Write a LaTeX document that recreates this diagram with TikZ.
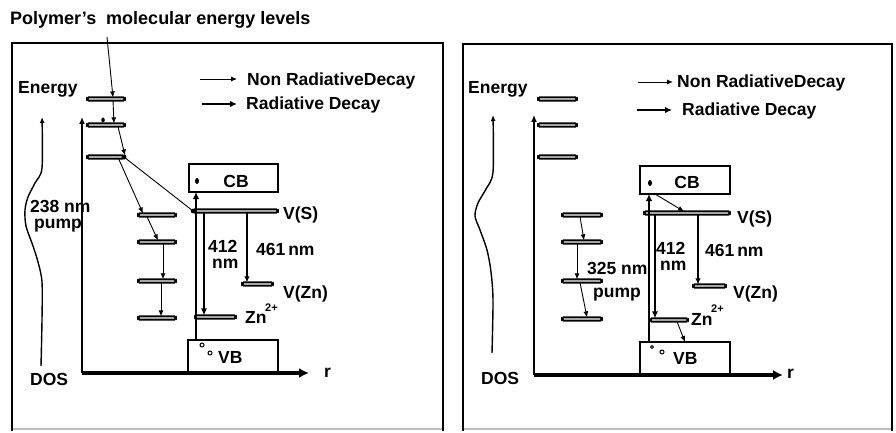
\documentclass[tikz,border=0pt]{standalone}
\usepackage{fontspec}
\setmainfont{Liberation Sans}
\usetikzlibrary{arrows.meta,calc,shapes.geometric}
\begin{document}
\begin{tikzpicture}[x=1pt,y=-1pt,
  font=\fontsize{17.5}{19}\selectfont\bfseries,
  lvl/.style={draw, line width=1.9pt, rounded corners=1.6pt, fill=white, minimum height=3.2pt, inner sep=0pt, outer sep=0pt},
  band/.style={draw, line width=1.4pt, inner sep=0pt, outer sep=0pt},
  nr/.style={line width=0.9pt, -{Latex[length=6pt,width=5pt]}},
  rad/.style={line width=2.4pt, -{Latex[length=7pt,width=6.5pt]}},
  radm/.style={line width=1.9pt, -{Latex[length=7pt,width=6pt]}},
  radn/.style={line width=1.3pt, -{Latex[length=6pt,width=5.5pt]}},
  eaxis/.style={line width=2.2pt, -{Latex[length=7pt,width=6pt]}},
  raxis/.style={line width=3.5pt, -{Latex[length=10pt,width=10pt]}},
  dos/.style={line width=1.4pt, -{Latex[length=6pt,width=5pt]}},
  lbl/.style={inner sep=0pt, anchor=base west},
  frame/.style={line width=2pt},
  elec/.style={ellipse, fill=black, inner sep=0pt, minimum width=4pt, minimum height=6pt},
  hole/.style={circle, draw, line width=1pt, inner sep=0pt, minimum size=4pt},
  sup/.style={inner sep=0pt, font=\fontsize{11}{12}\selectfont\bfseries}
]
\useasboundingbox (0,0) rectangle (896,433);
\fill[white] (0,0) rectangle (896,433);

% frames
\draw[frame] (12,431) -- (12,43) -- (443,43) -- (443,431);
\draw[gray!50, line width=1.5pt] (13,429) -- (442,429);
\draw[frame] (463,431) -- (463,44) -- (892,44) -- (892,431);
\draw[gray!50, line width=1.5pt] (464,429) -- (891,429);

% ================= LEFT PANEL =================
\node[lbl, font=\fontsize{18}{20}\selectfont\bfseries] (title) at (10,25) {Polymer’s\ \ molecular energy levels};
\node[lbl] (en1) at (18,94) {Energy};
\coordinate (lgA1) at (200,79); \coordinate (lgA2) at (237,79);
\draw[nr] (lgA1) -- (lgA2);
\node[lbl] (lgT1) at (247,86) {Non RadiativeDecay};
\coordinate (lgB1) at (202,104); \coordinate (lgB2) at (237,104);
\draw[rad] (lgB1) -- (lgB2);
\node[lbl] (lgT2) at (246,110) {Radiative Decay};

% bands
\node[band, minimum width=89pt, minimum height=28pt] (CB) at (233.5,178) {};
\node[inner sep=0pt, anchor=base] (CBt) at (236,187) {CB};
\node[band, minimum width=90pt, minimum height=32pt] (VB) at (233,356) {};
\node[lbl] (VBt) at (218,363) {VB};

% axes
\coordinate (O1) at (82,373);
\coordinate (E1) at (82,117);
\coordinate (X1) at (309,373);
\draw[eaxis] (O1) -- (E1);
\draw[raxis] (O1) -- (X1);
\node[lbl] (r1) at (324,377) {r};
\node[lbl] (dos1) at (30,385) {DOS};

% DOS curve
\draw[dos] plot[smooth] coordinates {(41,366) (42,320) (42,282) (38,262) (33,246) (26,226) (25,210) (28,197) (35,183) (42,168) (42,117)};
\node[lbl] (p1a) at (30,212) {238 nm};
\node[lbl] (p1b) at (34,228) {pump};

% polymer levels
\node[lvl, minimum width=38pt] (L1) at (106,99) {};
\node[lvl, minimum width=38pt] (L2) at (106,125) {};
\node[lvl, minimum width=37pt] (L3) at (105.5,157) {};
\node[lvl, minimum width=38pt] (La) at (157,215) {};
\node[lvl, minimum width=38pt] (Lb) at (157,242) {};
\node[lvl, minimum width=38pt] (Lc) at (157,281) {};
\node[lvl, minimum width=38pt] (Ld) at (157,318) {};

% defect levels
\node[lvl, minimum width=85pt] (VS) at (235.5,211) {};
\node[lbl] (VSt) at (283,219) {V(S)};
\node[lvl, minimum width=31pt] (VZn) at (257.5,284) {};
\node[lbl] (VZnt) at (283,298) {V(Zn)};
\node[lvl, minimum width=41pt] (Zn) at (215.5,317) {};
\node[lbl] (Znt) at (245,323) {Zn};
\node[sup, anchor=base west] (Zns) at (265,311) {2+};

% polymer arrows
\coordinate (t0) at (107,37);
\draw[nr] (t0) -- ([xshift=7pt]L1.north);
\draw[nr] ([xshift=7pt]L1.south) -- ([xshift=8pt]L2.north);
\node[elec, minimum width=3.5pt, minimum height=5pt] (e0) at (103,120) {};
\draw[nr] ([xshift=12pt]L2.south) -- ([xshift=19.5pt]L3.north);
\draw[line width=0.9pt] (L3.east) -- (VS.west);
\fill (L3.east) circle (2.5pt);
\draw[nr] ([xshift=13pt]L3.south) -- ([xshift=-14pt]La.north);
\draw[nr] ([xshift=-10pt]La.south) -- ([xshift=1pt]Lb.north);
\draw[nr] ([xshift=6pt]Lb.south) -- ([xshift=6pt]Lc.north);
\draw[nr] ([xshift=4pt]Lc.south) -- ([xshift=4pt]Ld.north);

% semiconductor arrows
\draw[rad] ([xshift=8pt]VB.north west) -- ([xshift=7pt]CB.south west);
\fill (VS.west) circle (2.3pt);
\node[elec] (e1) at (197,181) {};
\draw[radm] ([xshift=-31.5pt]VS.south) -- ([xshift=-11.5pt]Zn.north);
\draw[radn] ([xshift=11.5pt]VS.south) -- ([xshift=-10.5pt]VZn.north);
\node[lbl] (n412a) at (208,252) {412};
\node[lbl] (n412b) at (212,268) {nm};
\node[lbl] (n461) at (256,255) {461\,nm};
\node[hole] (h1) at (202,345) {};
\node[hole] (h2) at (210,353) {};

% ================= RIGHT PANEL =================
\node[lbl] (en2) at (468,94) {Energy};
\coordinate (rgA1) at (638,82); \coordinate (rgA2) at (673,82);
\draw[nr] (rgA1) -- (rgA2);
\node[lbl] (rgT1) at (677,88) {Non RadiativeDecay};
\coordinate (rgB1) at (637,110); \coordinate (rgB2) at (672,110);
\draw[rad] (rgB1) -- (rgB2);
\node[lbl] (rgT2) at (682,116) {Radiative Decay};

\node[band, minimum width=90pt, minimum height=28pt] (RCB) at (685,180) {};
\node[inner sep=0pt, anchor=base] (RCBt) at (687,188) {CB};
\node[band, minimum width=90pt, minimum height=32pt] (RVB) at (685,358) {};
\node[lbl] (RVBt) at (673,364) {VB};

\coordinate (O2) at (534,375);
\coordinate (E2) at (534,115);
\coordinate (X2) at (783,375);
\draw[eaxis] (O2) -- (E2);
\draw[raxis] (O2) -- (X2);
\node[lbl] (r2) at (787,378) {r};
\node[lbl] (dos2) at (481,384) {DOS};

\draw[dos] plot[smooth] coordinates {(492,353) (493,300) (491,272) (487,250) (480,230) (475,216) (478,203) (486,189) (493,172) (493,115)};

\node[lvl, minimum width=39pt] (R1) at (557.5,99) {};
\node[lvl, minimum width=39pt] (R2) at (557.5,125) {};
\node[lvl, minimum width=39pt] (R3) at (557.5,157) {};
\node[lvl, minimum width=40pt] (Ra) at (582,215) {};
\node[lvl, minimum width=40pt] (Rb) at (582,242) {};
\node[lvl, minimum width=40pt] (Rc) at (582,281) {};
\node[lvl, minimum width=40pt] (Rd) at (582,319) {};

\node[lvl, minimum width=86pt] (RVS) at (687,213) {};
\node[lbl] (RVSt) at (737,223) {V(S)};
\node[lvl, minimum width=33pt] (RVZn) at (709.5,286) {};
\node[lbl] (RVZnt) at (733,298) {V(Zn)};
\node[lvl, minimum width=38pt] (RZn) at (669,320) {};
\node[lbl] (RZnt) at (691,325) {Zn};
\node[sup, anchor=base west] (RZns) at (711,312) {2+};

\draw[nr] ([xshift=-2pt]Ra.south) -- ([xshift=2pt]Rb.north);
\draw[nr] ([xshift=-5pt]Rb.south) -- ([xshift=-5pt]Rc.north);
\draw[nr] ([xshift=-2pt]Rc.south) -- ([xshift=5pt]Rd.north);
\node[lbl] (p2a) at (587,274) {325 nm};
\node[lbl] (p2b) at (593,297) {pump};

\draw[rad] ([xshift=9pt]RVB.north west) -- ([xshift=9pt]RCB.south west);
\node[elec] (e2) at (650,183) {};
\draw[nr] ([xshift=15pt]RCB.south west) -- ([xshift=-3pt]RVS.north);
\draw[radm] ([xshift=-32pt]RVS.south) -- ([xshift=-14pt]RZn.north);
\draw[radn] ([xshift=11pt]RVS.south) -- ([xshift=-11.5pt]RVZn.north);
\draw[nr] ([xshift=8pt]RZn.south) -- (RVB.north);
\node[lbl] (r412a) at (656,254) {412};
\node[lbl] (r412b) at (660,270) {nm};
\node[lbl] (r461) at (705,256) {461\,nm};
\node[hole, minimum size=3pt] (h3) at (652,347) {};
\node[hole] (h4) at (662,352) {};
\end{tikzpicture}
\end{document}
